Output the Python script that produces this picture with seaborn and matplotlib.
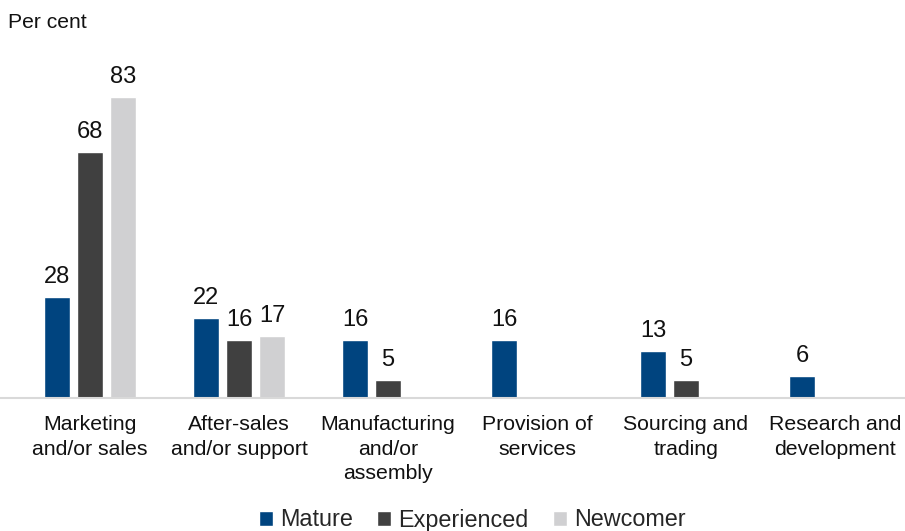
import matplotlib
matplotlib.use("Agg")
import matplotlib.pyplot as plt
import seaborn as sns
import pandas as pd
import numpy as np

categories = [
    "Marketing\nand/or sales",
    "After-sales\nand/or support",
    "Manufacturing\nand/or\nassembly",
    "Provision of\nservices",
    "Sourcing and\ntrading",
    "Research and\ndevelopment",
]
series = ["Mature", "Experienced", "Newcomer"]
mature = [28, 22, 16, 16, 13, 6]
experienced = [68, 16, 5, np.nan, 5, np.nan]
newcomer = [83, 17, np.nan, np.nan, np.nan, np.nan]
colors = ["#00447F", "#404040", "#D0D0D2"]

rows = []
for name, vals in zip(series, [mature, experienced, newcomer]):
    for cat, v in zip(categories, vals):
        if not np.isnan(v):
            rows.append({"category": cat, "group": name, "value": v})
df = pd.DataFrame(rows)

sns.set_theme(style="white")
plt.rcParams["font.family"] = ["Liberation Sans", "DejaVu Sans"]

fig = plt.figure(figsize=(9.05, 5.31), dpi=100)
ax = fig.add_axes([0.0, 1 - 398 / 531, 1.0, (398 - 72) / 531])

sns.barplot(
    data=df, x="category", y="value", hue="group",
    order=categories, hue_order=series, palette=colors,
    width=0.665, gap=0.2, saturation=1, ax=ax, legend=True,
)

for cont in ax.containers:
    ax.bar_label(cont, fmt="%.0f", padding=6.5, fontsize=17, color="#111111")

ax.set_ylim(0, 90)
ax.set_xlim(-0.604, 5.47)
ax.set_xlabel("")
ax.set_ylabel("")
ax.set_yticks([])
ax.tick_params(axis="x", length=0, pad=12.5, labelsize=15.3, colors="#111111")
for lbl in ax.get_xticklabels():
    lbl.set_linespacing(1.35)
for s in ["top", "right", "left"]:
    ax.spines[s].set_visible(False)
ax.spines["bottom"].set_color("#D9D9D9")
ax.spines["bottom"].set_linewidth(1.5)

fig.text(0.009, 1 - 22 / 531, "Per cent", fontsize=15.2, va="center", ha="left",
         color="#111111")

handles, labels = ax.get_legend_handles_labels()
ax.get_legend().remove()
fig.legend(handles, labels, loc="center", bbox_to_anchor=(0.522, 1 - 520 / 531),
           ncol=3, frameon=False, fontsize=16.8, handlelength=0.6, handleheight=0.6,
           handletextpad=0.3, columnspacing=1.05, borderaxespad=0)

fig.savefig("out.png", dpi=100)
